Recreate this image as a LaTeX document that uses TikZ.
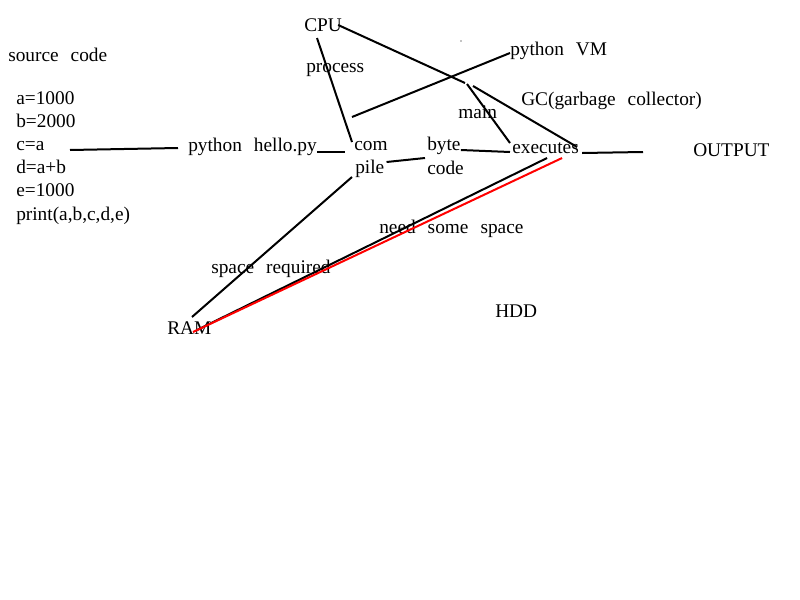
\documentclass[tikz,border=0pt]{standalone}
\usepackage{fontspec}
\setmainfont{Liberation Serif}
\newcommand\lblfont{\fontsize{14.5}{17.4}\selectfont\spaceskip 0.62em\relax}
\tikzset{lbl/.style={anchor=west,inner sep=0pt,font=\lblfont},
  wire/.style={line width=1.5pt}}
\begin{document}
\begin{tikzpicture}[x=0.75pt,y=-0.75pt]
\useasboundingbox (0,0) rectangle (800,600);
% words
\node[lbl] (cpu) at (304,25) {CPU};
\node[lbl] (src) at (8,55) {source code};
\node[lbl,anchor=north west,align=left] (code) at (16,91)
  {a=1000\\b=2000\\c=a\\d=a+b\\e=1000\\print(a,b,c,d,e)};
\node[lbl] (process) at (306,70) {process};
\node[lbl] (pyvm) at (510,51) {python VM};
\node[lbl] (mainlbl) at (458,112) {main};
\node[lbl] (gc) at (521,101) {GC(garbage collector)};
\node[lbl] (hello) at (188,147) {python hello.py};
\node[lbl] (com) at (354,146) {com};
\node[lbl] (pile) at (355,169) {pile};
\node[lbl] (byte) at (427,146) {byte};
\node[lbl] (bcode) at (427,168) {code};
\node[lbl] (exec) at (512,148) {executes};
\node[lbl] (output) at (693,150) {OUTPUT};
\node[lbl] (needsp) at (379,229) {need some space};
\node[lbl] (spreq) at (211,269) {space required};
\node[lbl] (ram) at (167,328) {RAM};
\node[lbl] (hdd) at (495,311) {HDD};
\fill (461,41) circle (0.7);
% loose ends
\coordinate (srcend) at (70,150);
\coordinate (gcA) at (465,83);
\coordinate (gcB) at (473,86);
\coordinate (mainA) at (467,84);
\coordinate (vmend) at (352,117);
% lines
\draw[wire] (srcend) -- ([shift={(-10,1)}]hello.west);
\draw[wire] ([shift={(0,5)}]hello.east) -- ([shift={(-9,6)}]com.west);
\draw[wire] ([shift={(13,13)}]cpu.west) -- ([shift={(-2,-4)}]com.west);
\draw[wire] ([shift={(-4,0)}]cpu.east) -- (gcA);
\draw[wire] (gcB) -- ([shift={(-2,-1)}]exec.east);
\draw[wire] (mainA) -- ([shift={(-2,-5)}]exec.west);
\draw[wire] ([shift={(0,2)}]pyvm.west) -- (vmend);
\draw[wire] ([shift={(2,-7)}]pile.east) -- ([shift={(-2,-10)}]bcode.west);
\draw[wire] ([shift={(0,4)}]byte.east) -- ([shift={(-2,4)}]exec.west);
\draw[wire] ([shift={(3,5)}]exec.east) -- ([shift={(-50,2)}]output.west);
\draw[wire] ([shift={(-3,8)}]pile.west) -- ([shift={(25,-11)}]ram.west);
\draw[wire] ([shift={(-32,10)}]exec.east) -- ([shift={(30,2)}]ram.west);
\draw[wire,red] ([shift={(-17,10)}]exec.east) -- ([shift={(26,4)}]ram.west);
\end{tikzpicture}
\end{document}
